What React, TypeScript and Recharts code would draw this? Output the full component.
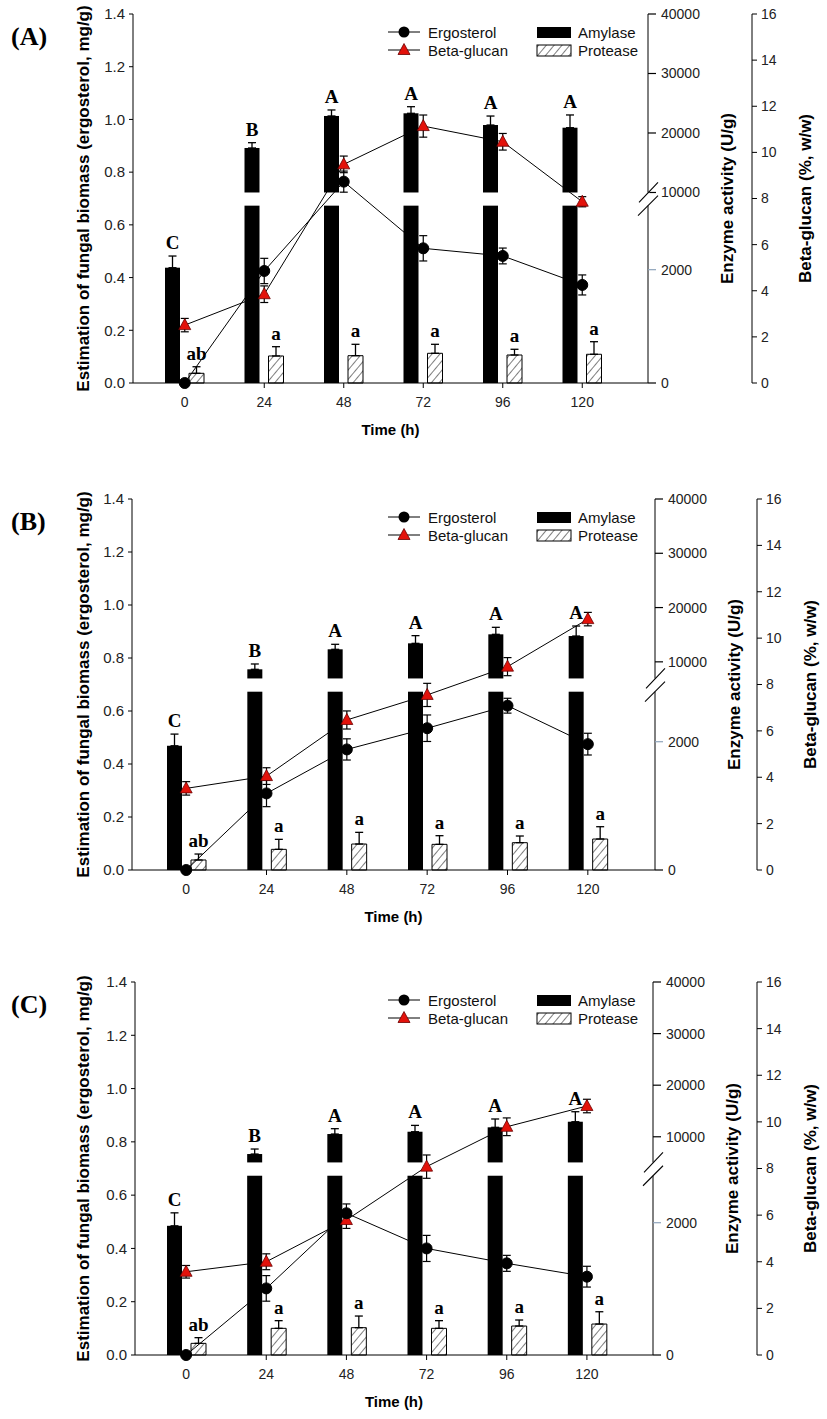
import React from "react";
import {
  ComposedChart,
  Bar,
  Line,
  XAxis,
  YAxis,
  ErrorBar,
  LabelList,
  Legend,
  Label,
} from "recharts";

const SANS = "'Liberation Sans', Arial, Helvetica, sans-serif";
const SERIF = "'Liberation Serif', 'Times New Roman', serif";
const W = 827;
const XH = 60;

// shared categories / ticks
const TIME = ["0", "24", "48", "72", "96", "120"];
const ERGO_TICKS = [0, 0.2, 0.4, 0.6, 0.8, 1.0, 1.2, 1.4];
const BETA_TICKS = [0, 2, 4, 6, 8, 10, 12, 14, 16];
const ENZ_TICKS = [0, 2000, 10000, 20000, 30000, 40000];
const AMY_LETTERS = ["C", "B", "A", "A", "A", "A"];
const PRO_LETTERS = ["ab", "a", "a", "a", "a", "a"];

// (A)
const A_ERGO = [0, 0.425, 0.764, 0.511, 0.482, 0.372];
const A_ERGO_ERR = [0, 0.048, 0.04, 0.048, 0.03, 0.038];
const A_BETA = [2.51, 3.85, 9.48, 11.14, 10.46, 7.86];
const A_BETA_ERR = [0.29, 0.36, 0.36, 0.48, 0.36, 0.22];
const A_AMY = [2035, 17480, 22860, 23310, 21340, 20890];
const A_AMY_ERR = [206, 890, 1010, 1110, 1510, 2140];
const A_PRO = [171, 477, 482, 524, 494, 507];
const A_PRO_ERR = [116, 164, 201, 159, 101, 222];

// (B)
const B_ERGO = [0, 0.289, 0.455, 0.535, 0.62, 0.475];
const B_ERGO_ERR = [0, 0.05, 0.04, 0.05, 0.028, 0.041];
const B_BETA = [3.52, 4.05, 6.47, 7.55, 8.77, 10.82];
const B_BETA_ERR = [0.29, 0.36, 0.39, 0.5, 0.39, 0.29];
const B_AMY = [1937, 8624, 12309, 13409, 15070, 14756];
const B_AMY_ERR = [182, 982, 921, 1417, 1290, 1842];
const B_PRO = [156, 322, 405, 400, 426, 483];
const B_PRO_ERR = [93, 156, 182, 135, 104, 192];

// (C)
const C_ERGO = [0, 0.25, 0.532, 0.4, 0.344, 0.294];
const C_ERGO_ERR = [0, 0.048, 0.035, 0.049, 0.03, 0.039];
const C_BETA = [3.57, 4.0, 5.79, 8.08, 9.79, 10.68];
const C_BETA_ERR = [0.27, 0.34, 0.36, 0.5, 0.38, 0.29];
const C_AMY = [1953, 6657, 10534, 10980, 11833, 12918];
const C_AMY_ERR = [196, 969, 1034, 1228, 1615, 1938];
const C_PRO = [176, 403, 413, 403, 438, 468];
const C_PRO_ERR = [86, 116, 176, 116, 91, 186];

// broken enzyme axis: lower segment [0, lowMax], upper [upMin, 40000]
const GAP_LO = 0.4806;
const GAP_HI = 0.5163;
const ENZ_MAX = 40000;
type Brk = { lowMax: number; upMin: number };

const toD = (v: number, b: Brk) =>
  v <= b.lowMax
    ? (v / b.lowMax) * GAP_LO
    : GAP_HI + ((v - b.upMin) / (ENZ_MAX - b.upMin)) * (1 - GAP_HI);
const errD = (v: number, e: number, b: Brk) =>
  v <= b.lowMax ? (e / b.lowMax) * GAP_LO : (e / (ENZ_MAX - b.upMin)) * (1 - GAP_HI);

const ENZ_TICK = 8;
const ENZ_MARGIN = 5;

function EnzTick(props: any) {
  const { x, y, payload, marks, plotH } = props;
  const m = marks.find((k: any) => Math.abs(k.d - payload.value) < 1e-9);
  if (!m) return null;
  const ax = x - ENZ_TICK - ENZ_MARGIN;
  if (m.label === "") {
    const half = ((GAP_HI - GAP_LO) / 2) * plotH;
    const yHi = y - half;
    const yLo = y + half;
    return (
      <g>
        <rect x={ax - 1.5} y={yHi} width={3} height={yLo - yHi} fill="#fff" />
        <line x1={ax - 9} y1={yHi + 10} x2={ax + 10} y2={yHi - 10} stroke="#000" strokeWidth={1.1} />
        <line x1={ax - 10} y1={yLo + 10} x2={ax + 10} y2={yLo - 10} stroke="#000" strokeWidth={1.1} />
      </g>
    );
  }
  return (
    <g>
      <line
        x1={ax}
        x2={ax + ENZ_TICK}
        y1={y}
        y2={y}
        stroke={m.v === 2000 ? "#8ea4bb" : "#000"}
        strokeWidth={1.2}
      />
      <text x={x} y={y} dominantBaseline="central" fontSize={14} fontFamily={SANS} fill="#222">
        {m.label}
      </text>
    </g>
  );
}

function AmyShape(props: any) {
  const { x, y, width, height, payload } = props;
  if (!height || height <= 0 || !payload) return null;
  const d = payload.amy;
  const k = height / d;
  const bottom = y + height;
  if (d <= GAP_HI) return <rect x={x} y={y} width={width} height={height} fill="#000" />;
  const yHi = bottom - GAP_HI * k;
  const yLo = bottom - GAP_LO * k;
  return (
    <g>
      <rect x={x} y={y} width={width} height={yHi - y} fill="#000" />
      <rect x={x} y={yLo} width={width} height={bottom - yLo} fill="#000" />
    </g>
  );
}

const Tri = ({ cx, cy }: any) =>
  cx == null || cy == null ? null : (
    <path
      d={`M${cx},${cy - 6.5}L${cx + 6},${cy + 4.5}L${cx - 6},${cy + 4.5}Z`}
      fill="#e3120b"
      stroke="#6a0000"
      strokeWidth={0.8}
    />
  );

const letterContent = (rows: any[], valKey: string, errKey: string, size: number) => (lp: any) => {
  const vb = lp.viewBox || lp;
  const row = rows[lp.index];
  if (!row || vb == null || vb.height == null) return null;
  const k = row[valKey] > 0 ? vb.height / row[valKey] : 0;
  const errPx = row[errKey][1] * k;
  return (
    <text
      x={vb.x + vb.width / 2}
      y={vb.y - errPx - 7}
      textAnchor="middle"
      fontFamily={SERIF}
      fontWeight={700}
      fontSize={size}
      fill="#000"
    >
      {lp.value}
    </text>
  );
};

const vTitle = (text: string, dx: number, size: number) => (lp: any) => {
  const vb = lp.viewBox || {};
  const cx = vb.x + dx;
  const cy = vb.y + vb.height / 2;
  return (
    <text
      x={cx}
      y={cy}
      transform={`rotate(-90, ${cx}, ${cy})`}
      textAnchor="middle"
      dominantBaseline="central"
      fontFamily={SANS}
      fontWeight={700}
      fontSize={size}
      fill="#000"
    >
      {text}
    </text>
  );
};

const xTitle = (lp: any) => {
  const vb = lp.viewBox || {};
  return (
    <text
      x={vb.x + vb.width / 2}
      y={vb.y + 46}
      textAnchor="middle"
      dominantBaseline="central"
      fontFamily={SANS}
      fontWeight={700}
      fontSize={15}
      fill="#000"
    >
      Time (h)
    </text>
  );
};

function LegendBox({ id }: { id: string }) {
  const txt = { fontFamily: SANS, fontSize: 15, fill: "#111" } as const;
  return (
    <svg width={270} height={44} style={{ display: "block", overflow: "visible" }}>
      <defs>
        <pattern id={id} width={6} height={6} patternUnits="userSpaceOnUse" patternTransform="rotate(40)">
          <line x1={0} y1={0} x2={0} y2={6} stroke="#000" strokeWidth={1} />
        </pattern>
      </defs>
      <line x1={3} x2={35} y1={10} y2={10} stroke="#000" />
      <circle cx={19} cy={10} r={5.5} fill="#000" />
      <text x={43} y={10} dominantBaseline="central" {...txt}>Ergosterol</text>
      <line x1={3} x2={35} y1={28} y2={28} stroke="#000" />
      <Tri cx={19} cy={28} />
      <text x={43} y={28} dominantBaseline="central" {...txt}>Beta-glucan</text>
      <rect x={152} y={5} width={34} height={11} fill="#000" />
      <text x={193} y={10} dominantBaseline="central" {...txt}>Amylase</text>
      <rect x={152} y={23} width={34} height={11} fill={`url(#${id})`} stroke="#000" />
      <text x={193} y={28} dominantBaseline="central" {...txt}>Protease</text>
    </svg>
  );
}

type PanelCfg = {
  tag: string;
  top: number;
  height: number;
  mt: number;
  plotH: number;
  plotLeft: number;
  plotRight: number;
  betaX: number;
  padL: number;
  padR: number;
  brk: Brk;
  ergo: number[];
  ergoErr: number[];
  beta: number[];
  betaErr: number[];
  amy: number[];
  amyErr: number[];
  pro: number[];
  proErr: number[];
};

const PANELS: PanelCfg[] = [
  {
    tag: "(A)", top: 0, height: 485, mt: 14, plotH: 369, plotLeft: 133, plotRight: 648, betaX: 752,
    padL: 12, padR: 26, brk: { lowMax: 3130, upMin: 10000 },
    ergo: A_ERGO, ergoErr: A_ERGO_ERR, beta: A_BETA, betaErr: A_BETA_ERR,
    amy: A_AMY, amyErr: A_AMY_ERR, pro: A_PRO, proErr: A_PRO_ERR,
  },
  {
    tag: "(B)", top: 485, height: 485, mt: 14, plotH: 371, plotLeft: 132, plotRight: 655, betaX: 757,
    padL: 14, padR: 27, brk: { lowMax: 2780, upMin: 6940 },
    ergo: B_ERGO, ergoErr: B_ERGO_ERR, beta: B_BETA, betaErr: B_BETA_ERR,
    amy: B_AMY, amyErr: B_AMY_ERR, pro: B_PRO, proErr: B_PRO_ERR,
  },
  {
    tag: "(C)", top: 970, height: 449, mt: 12, plotH: 373, plotLeft: 135, plotRight: 653, betaX: 757,
    padL: 11, padR: 26, brk: { lowMax: 2710, upMin: 5030 },
    ergo: C_ERGO, ergoErr: C_ERGO_ERR, beta: C_BETA, betaErr: C_BETA_ERR,
    amy: C_AMY, amyErr: C_AMY_ERR, pro: C_PRO, proErr: C_PRO_ERR,
  },
];

function Panel({ p, idx }: { p: PanelCfg; idx: number }) {
  const rows = TIME.map((t, i) => ({
    t,
    ergo: p.ergo[i],
    ergoErr: p.ergoErr[i],
    beta: p.beta[i],
    betaErr: p.betaErr[i],
    amy: toD(p.amy[i], p.brk),
    amyErr: [0, errD(p.amy[i], p.amyErr[i], p.brk)],
    pro: toD(p.pro[i], p.brk),
    proErr: [0, errD(p.pro[i], p.proErr[i], p.brk)],
    amyTxt: AMY_LETTERS[i],
    proTxt: PRO_LETTERS[i],
  }));

  const marks = [
    ...ENZ_TICKS.map((v) => ({ v, d: toD(v, p.brk), label: String(v) })),
    { v: -1, d: (GAP_LO + GAP_HI) / 2, label: "" },
  ];
  const hid = `hatch-${idx}`;
  const mb = p.height - p.mt - p.plotH - XH;
  const tickStyle = { fill: "#222", fontSize: 14, fontFamily: SANS };

  return (
    <div style={{ position: "absolute", left: 0, top: p.top, width: W, height: p.height }}>
      <div
        style={{
          position: "absolute",
          left: 11,
          top: p.mt + 10,
          fontFamily: SERIF,
          fontWeight: 700,
          fontSize: 26,
          lineHeight: "26px",
          zIndex: 2,
        }}
      >
        {p.tag}
      </div>
      <ComposedChart
        width={W}
        height={p.height}
        data={rows}
        margin={{ top: p.mt, right: 0, bottom: mb, left: 0 }}
        barSize={15}
        barGap={9}
        style={{ fontFamily: SANS }}
      >
        <defs>
          <pattern id={hid} width={6} height={6} patternUnits="userSpaceOnUse" patternTransform="rotate(40)">
            <rect x={0} y={0} width={6} height={6} fill="#fff" />
            <line x1={0} y1={0} x2={0} y2={6} stroke="#000" strokeWidth={1} />
          </pattern>
        </defs>
        <XAxis
          dataKey="t"
          height={XH}
          padding={{ left: p.padL, right: p.padR }}
          tickSize={5}
          tickMargin={9}
          interval={0}
          axisLine={{ stroke: "#000" }}
          tickLine={{ stroke: "#000" }}
          tick={tickStyle}
        >
          <Label content={xTitle} />
        </XAxis>
        <XAxis
          xAxisId="top"
          dataKey="t"
          orientation="top"
          height={0}
          tick={false}
          tickLine={false}
          axisLine={{ stroke: "#000" }}
        />
        <YAxis
          yAxisId="L"
          width={p.plotLeft}
          domain={[0, 1.4]}
          ticks={ERGO_TICKS}
          interval={0}
          tickFormatter={(v: number) => v.toFixed(1)}
          tickSize={4}
          tickMargin={4}
          axisLine={{ stroke: "#000" }}
          tickLine={{ stroke: "#000" }}
          tick={{ ...tickStyle, fontSize: 15 }}
        >
          <Label content={vTitle("Estimation of fungal biomass (ergosterol, mg/g)", 83, 17)} />
        </YAxis>
        <YAxis
          yAxisId="E"
          orientation="right"
          width={p.betaX - p.plotRight}
          domain={[0, 1]}
          ticks={marks.map((m) => m.d)}
          interval={0}
          tickSize={ENZ_TICK}
          tickMargin={ENZ_MARGIN}
          tickLine={false}
          axisLine={{ stroke: "#000" }}
          tick={(tp: any) => <EnzTick {...tp} marks={marks} plotH={p.plotH} />}
        >
          <Label content={vTitle("Enzyme activity (U/g)", 79, 17)} />
        </YAxis>
        <YAxis
          yAxisId="G"
          orientation="right"
          width={W - p.betaX}
          domain={[0, 16]}
          ticks={BETA_TICKS}
          interval={0}
          tickSize={5}
          tickMargin={4}
          axisLine={{ stroke: "#000" }}
          tickLine={{ stroke: "#000" }}
          tick={tickStyle}
        >
          <Label content={vTitle("Beta-glucan (%, w/w)", 53, 17)} />
        </YAxis>

        <Bar yAxisId="E" dataKey="amy" shape={AmyShape} isAnimationActive={false}>
          <ErrorBar dataKey="amyErr" width={4} stroke="#000" strokeWidth={1.3} direction="y" />
          <LabelList dataKey="amyTxt" content={letterContent(rows, "amy", "amyErr", 19)} />
        </Bar>
        <Bar
          yAxisId="E"
          dataKey="pro"
          fill={`url(#${hid})`}
          stroke="#000"
          strokeWidth={1}
          isAnimationActive={false}
        >
          <ErrorBar dataKey="proErr" width={4} stroke="#000" strokeWidth={1.3} direction="y" />
          <LabelList dataKey="proTxt" content={letterContent(rows, "pro", "proErr", 19)} />
        </Bar>
        <Line
          yAxisId="G"
          dataKey="beta"
          stroke="#000"
          strokeWidth={1}
          dot={(dp: any) => <Tri key={`tri-${dp.index}`} cx={dp.cx} cy={dp.cy} />}
          isAnimationActive={false}
        >
          <ErrorBar dataKey="betaErr" width={4} stroke="#000" strokeWidth={1.2} direction="y" />
        </Line>
        <Line
          yAxisId="L"
          dataKey="ergo"
          stroke="#000"
          strokeWidth={1}
          dot={{ r: 5.5, fill: "#000", stroke: "#000", strokeWidth: 1 }}
          isAnimationActive={false}
        >
          <ErrorBar dataKey="ergoErr" width={4} stroke="#000" strokeWidth={1.2} direction="y" />
        </Line>
        <Legend
          layout="horizontal"
          verticalAlign="middle"
          align="center"
          wrapperStyle={{ left: 385, top: p.mt + 8, width: 270, height: 44 }}
          content={() => <LegendBox id={`lg-${idx}`} />}
        />
      </ComposedChart>
    </div>
  );
}

export default function App() {
  return (
    <div style={{ position: "absolute", left: 0, top: 0, width: W, height: 1419, background: "#fff" }}>
      {PANELS.map((p, i) => (
        <Panel key={p.tag} p={p} idx={i} />
      ))}
    </div>
  );
}
